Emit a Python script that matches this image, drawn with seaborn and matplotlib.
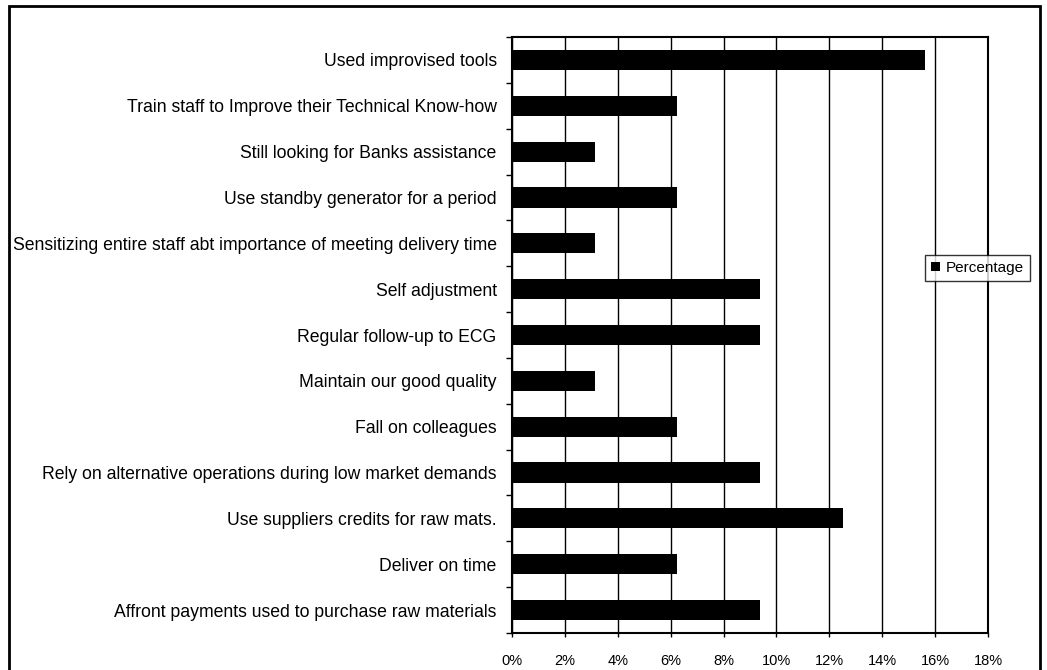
import matplotlib
matplotlib.use("Agg")
import matplotlib.pyplot as plt
import matplotlib.patches as mpatches
import seaborn as sns
import pandas as pd
import numpy as np

categories = [
    "Used improvised tools",
    "Train staff to Improve their Technical Know-how",
    "Still looking for Banks assistance",
    "Use standby generator for a period",
    "Sensitizing entire staff abt importance of meeting delivery time",
    "Self adjustment",
    "Regular follow-up to ECG",
    "Maintain our good quality",
    "Fall on colleagues",
    "Rely on alternative operations during low market demands",
    "Use suppliers credits for raw mats.",
    "Deliver on time",
    "Affront payments used to purchase raw materials",
]
percentage = [15.625, 6.25, 3.125, 6.25, 3.125, 9.375, 9.375, 3.125,
              6.25, 9.375, 12.5, 6.25, 9.375]
x_ticks = [0, 2, 4, 6, 8, 10, 12, 14, 16, 18]

df = pd.DataFrame({"category": categories, "Percentage": percentage})

sns.set_theme(style="white")
plt.rcParams["font.family"] = ["Liberation Sans", "DejaVu Sans"]
plt.rcParams.update({"text.color": "black", "xtick.color": "black",
                     "ytick.color": "black", "axes.labelcolor": "black"})

fig = plt.figure(figsize=(10.47, 6.7), dpi=100)
ax = fig.add_axes([512 / 1047, 1 - 633 / 670, (988 - 512) / 1047, (633 - 37) / 670])

sns.barplot(data=df, x="Percentage", y="category", color="black",
            orient="h", width=0.44, ax=ax, label="Percentage",
            edgecolor="black", linewidth=0, zorder=3)

ax.set_xlim(0, 18)
ax.set_ylim(len(categories) - 0.5, -0.5)
ax.set_xticks(x_ticks)
ax.set_xticklabels([f"{t}%" for t in x_ticks], fontsize=10.5)
ax.set_xlabel("")
ax.set_ylabel("")
ax.tick_params(axis="y", labelsize=12.7, length=0, pad=11, labelcolor="black")
ax.tick_params(axis="x", length=3, width=1, color="black", direction="out",
               pad=12, bottom=True, labelcolor="black")
ax.set_yticks(np.arange(-0.5, len(categories), 1.0), minor=True)
ax.tick_params(axis="y", which="minor", length=4, width=1, color="black",
               direction="out", left=True)

ax.grid(axis="x", color="black", linewidth=1.0, zorder=0)
ax.set_axisbelow(True)
for s in ax.spines.values():
    s.set_color("black")
    s.set_linewidth(1.5)
    s.set_visible(True)

leg = ax.legend(loc="center left", bbox_to_anchor=(925 / 1047, 1 - 268 / 670),
                bbox_transform=fig.transFigure, frameon=True, fancybox=False,
                fontsize=11, handlelength=0.6, handleheight=0.6,
                handletextpad=0.35, borderpad=0.4, borderaxespad=0)
leg.get_frame().set_edgecolor("black")
leg.get_frame().set_linewidth(1.0)
leg.get_frame().set_facecolor("white")
leg.set_zorder(10)
for t in leg.get_texts():
    t.set_color("black")

# chart frame
fig.patches.append(mpatches.Rectangle((9 / 1047, -0.05), (1040 - 9) / 1047,
                                      1.05 - 6 / 670, transform=fig.transFigure,
                                      fill=False, edgecolor="black",
                                      linewidth=2.0))

fig.savefig("out.png", dpi=100)
